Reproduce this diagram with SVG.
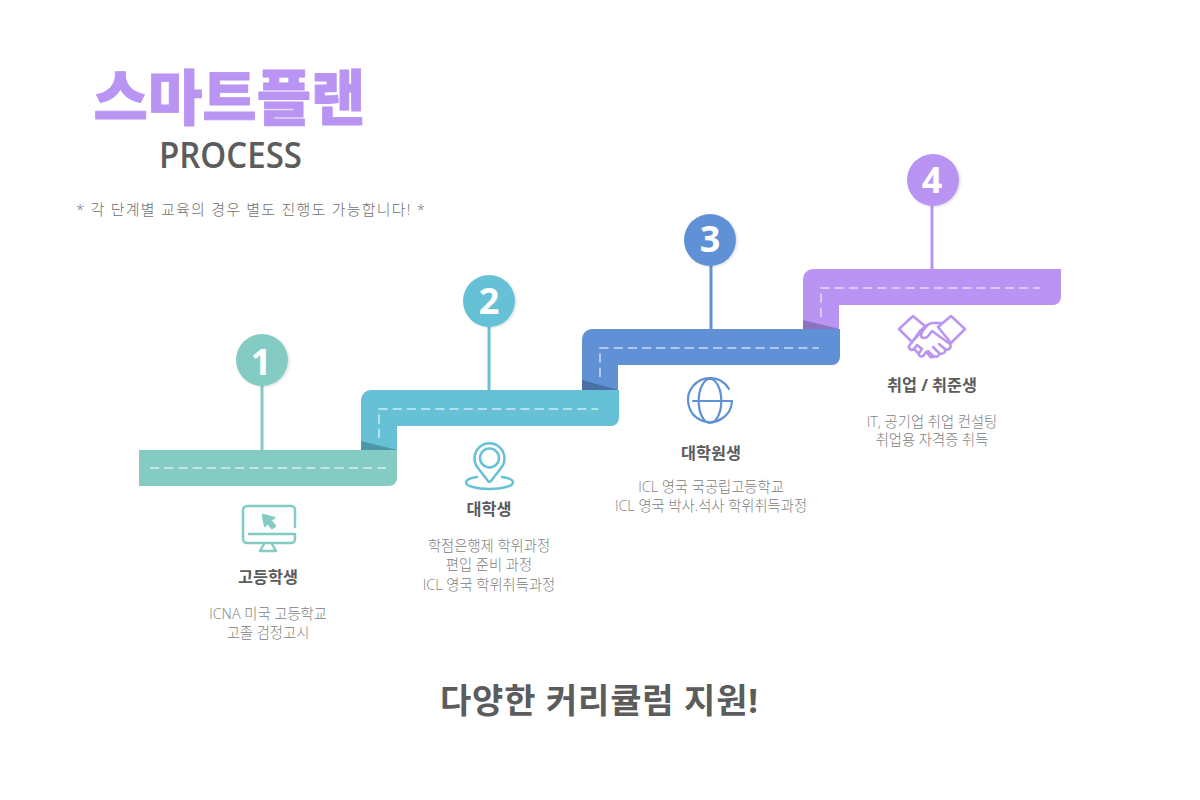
<svg xmlns="http://www.w3.org/2000/svg" width="1200" height="800" viewBox="0 0 1200 800">
<style>
.kr{font-family:"Open Sans","Noto Sans CJK KR",sans-serif}
.head{font-size:16.300px;font-weight:700;fill:#5c5c5c;text-anchor:middle}
.body{font-size:14.300px;font-weight:300;fill:#808080;text-anchor:middle}
.num{font-size:36px;font-weight:700;fill:#fff;text-anchor:middle}
.dash{fill:none;stroke:#fff;stroke-opacity:.5;stroke-width:2;stroke-dasharray:9.200 5}
.ic{fill:none;stroke-width:2.500;stroke-linecap:round;stroke-linejoin:round}
.pin{stroke-width:3;fill:none}
</style>
<defs>
<filter id="sh" x="-20%" y="-20%" width="140%" height="140%"><feDropShadow dx="1.500" dy="1" stdDeviation="1" flood-color="#000" flood-opacity=".12"/></filter>
</defs>
<rect width="1200" height="800" fill="#fff"/>
<g id="title">
<text class="kr" x="229.500" y="120" font-size="60" font-weight="900" fill="#b994f3" stroke="#b994f3" stroke-width=".8" stroke-linejoin="round" text-anchor="middle" textLength="272" lengthAdjust="spacingAndGlyphs">스마트플랜</text>
<text class="kr" x="230.500" y="168" font-size="35.500" font-weight="600" fill="#5c5c5c" text-anchor="middle" textLength="143" lengthAdjust="spacingAndGlyphs">PROCESS</text>
<text class="kr" x="250.500" y="215" font-size="15" font-weight="300" fill="#707070" text-anchor="middle" textLength="349">* 각 단계별 교육의 경우 별도 진행도 가능합니다! *</text>
</g>
<g id="connectors">
<line class="pin" x1="262" y1="380" x2="262" y2="450" stroke="#84ccc3"/>
<line class="pin" x1="489" y1="320" x2="489" y2="390" stroke="#66c1d6"/>
<line class="pin" x1="711" y1="260" x2="711" y2="329" stroke="#6091d6"/>
<line class="pin" x1="932" y1="200" x2="932" y2="269" stroke="#b994f3"/>
</g>
<g id="road-4">
<path fill="#b994f3" d="M803 329V279a10 10 0 0 1 10-10H1061V297a8 8 0 0 1-8 8H839V329Z"/>
<path fill="#8f72bf" d="M803 320L839 329H803Z"/>
<path class="dash" d="M821 317V288H1040"/>
</g>
<g id="road-3">
<path fill="#6091d6" d="M582 390V339a10 10 0 0 1 10-10H840V357a8 8 0 0 1-8 8H618V390Z"/>
<path fill="#4a70a6" d="M582 380L618 390H582Z"/>
<path class="dash" d="M600 377V348H819"/>
</g>
<g id="road-2">
<path fill="#66c1d6" d="M361 450V400a10 10 0 0 1 10-10H619V418a8 8 0 0 1-8 8H397V450Z"/>
<path fill="#4d95a8" d="M361 441L397 450H361Z"/>
<path class="dash" d="M379 438V409H598"/>
</g>
<g id="road-1">
<path fill="#84ccc3" d="M139 450H397V478a8 8 0 0 1-8 8H139Z"/>
<path class="dash" d="M150 468H386"/>
</g>
<g id="node-1">
<circle cx="262" cy="360" r="26" fill="#84ccc3" filter="url(#sh)"/>
<text class="kr num" x="261" y="375">1</text>
<g class="ic" stroke="#84ccc3">
<path d="M295 527V510a4 4 0 0 0-4-4H247a4 4 0 0 0-4 4V539a4 4 0 0 0 4 4H291a4 4 0 0 0 4-4V534H249"/>
<path d="M264 544L260 551H276L272 544"/>
<path d="M263 515L274 518L270 520L275 526L272 528L267 522L265 526Z" fill="#84ccc3"/>
</g>
<text class="kr head" x="268" y="583">고등학생</text>
<text class="kr body" x="268" y="619">ICNA 미국 고등학교</text>
<text class="kr body" x="268" y="638">고졸 검정고시</text>
</g>
<g id="node-2">
<circle cx="489" cy="301" r="26" fill="#66c1d6" filter="url(#sh)"/>
<text class="kr num" x="489" y="314">2</text>
<g class="ic" stroke="#66c1d6">
<path d="M488 481L478 468A15 15 0 1 1 501 468L491 481Q489.500 482.500 488 481Z"/>
<circle cx="489.500" cy="458" r="9.500"/>
<path d="M477 477C470 478 466 480 466 482.500C466 486 476 489 489.500 489C503 489 513 486 513 482.500C513 480 509 478 502 477"/>
</g>
<text class="kr head" x="489" y="515">대학생</text>
<text class="kr body" x="489" y="551">학점은행제 학위과정</text>
<text class="kr body" x="489" y="570">편입 준비 과정</text>
<text class="kr body" x="489" y="590">ICL 영국 학위취득과정</text>
</g>
<g id="node-3">
<circle cx="710" cy="240" r="26" fill="#6091d6" filter="url(#sh)"/>
<text class="kr num" x="710" y="252">3</text>
<g class="ic" stroke="#6091d6" style="stroke-width:2.200px">
<path d="M732 401A22 22 0 1 1 729 389"/>
<ellipse cx="710" cy="401" rx="11.300" ry="22"/>
<path d="M693 401H732"/>
</g>
<text class="kr head" x="711" y="459">대학원생</text>
<text class="kr body" x="711" y="492">ICL 영국 국공립고등학교</text>
<text class="kr body" x="711" y="511">ICL 영국 박사.석사 학위취득과정</text>
</g>
<g id="node-4">
<circle cx="933" cy="180" r="26" fill="#b994f3" filter="url(#sh)"/>
<text class="kr num" x="932" y="193">4</text>
<g class="ic" stroke="#b994f3">
<path d="M913 316L899 329L912 342L926 327Z"/>
<path d="M951 316L965 329L951 343L938 327Z"/>
<path d="M941 323H933C927 323 922 331 921 335C921 339 926 339 929 335L932 331L950 344"/>
<path d="M927 325L920 331L912 342"/>
<path d="M950 344C952 348 948 351 945 349L939 344M945 349C946 353 942 355 939 353L933 347M939 353C940 356 936 358 933 356L928 351"/>
<path d="M912 342L909 346C908 349 912 351 914 349L917 345L922 349L919 353C918 356 922 358 924 355L926 352L929 355C930 358 933 358 934 356"/>
<path d="M914 349L918 353"/>
</g>
<text class="kr head" x="932" y="391">취업 / 취준생</text>
<text class="kr body" x="932" y="427">IT, 공기업 취업 컨설팅</text>
<text class="kr body" x="932" y="445">취업용 자격증 취득</text>
</g>
<g id="footer">
<text class="kr" x="599" y="713" font-size="34" font-weight="700" fill="#5c5c5c" text-anchor="middle" textLength="318">다양한 커리큘럼 지원!</text>
</g>
</svg>
